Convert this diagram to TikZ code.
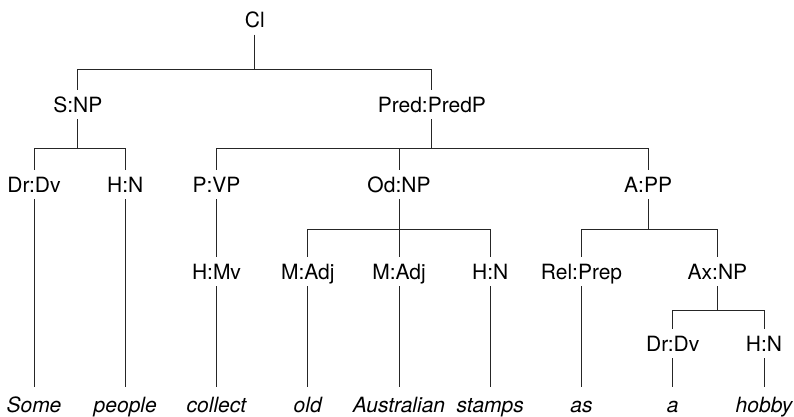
\documentclass[tikz,border=0pt]{standalone}
\usepackage{fontspec}
\setmainfont{TeX Gyre Heros}
\begin{document}
\begin{tikzpicture}[
    every node/.style={font=\fontsize{21}{25}\selectfont},
    lab/.style={
        inner xsep=2pt, inner ysep=7pt,
        text height=15pt, text depth=0pt
    },
    word/.style={
        lab, inner ysep=9.5pt,
        font=\fontsize{21}{25}\selectfont\itshape
    },
    branch/.style={draw=black!85, line width=0.8pt}
]

\def\dx{91.25pt}

\useasboundingbox (-34pt, 0) rectangle (760pt, -416pt);

% Clause and its two functions
\node[lab] (cl)   at (2.42*\dx, -20pt)    {Cl};
\node[lab] (snp)  at (0.48*\dx, -104.5pt) {S:NP};
\node[lab] (pred) at (4.36*\dx, -104.5pt) {Pred:PredP};

% Third row
\node[lab] (drdv) at (0*\dx, -184.5pt)    {Dr:Dv};
\node[lab] (hn)   at (1*\dx, -184.5pt)    {H:N};
\node[lab] (pvp)  at (2*\dx, -184.5pt)    {P:VP};
\node[lab] (odnp) at (4*\dx, -184.5pt)    {Od:NP};
\node[lab] (app)  at (6.73*\dx, -184.5pt) {A:PP};

% Fourth row
\node[lab] (hmv)   at (2*\dx, -271.5pt)    {H:Mv};
\node[lab] (madja) at (3*\dx, -271.5pt)    {M:Adj};
\node[lab] (madjb) at (4*\dx, -271.5pt)    {M:Adj};
\node[lab] (hnb)   at (5*\dx, -271.5pt)    {H:N};
\node[lab] (rel)   at (6*\dx, -271.5pt)    {Rel:Prep};
\node[lab] (axnp)  at (7.49*\dx, -271.5pt) {Ax:NP};

% Fifth row (inside Ax:NP)
\node[lab] (drdvb) at (7*\dx, -343.5pt) {Dr:Dv};
\node[lab] (hnc)   at (8*\dx, -343.5pt) {H:N};

% Words
\node[word] (w0) at (0*\dx, -404.5pt) {Some};
\node[word] (w1) at (1*\dx, -404.5pt) {people};
\node[word] (w2) at (2*\dx, -404.5pt) {collect};
\node[word] (w3) at (3*\dx, -404.5pt) {old};
\node[word] (w4) at (4*\dx, -404.5pt) {Australian};
\node[word] (w5) at (5*\dx, -404.5pt) {stamps};
\node[word] (w6) at (6*\dx, -404.5pt) {as};
\node[word] (w7) at (7*\dx, -404.5pt) {a};
\node[word] (w8) at (8*\dx, -404.5pt) {hobby};

% Branches with a bar under each parent
\draw[branch] (cl) -- ++(0,-49pt) coordinate (jcl);
\draw[branch] (jcl) -| (snp);
\draw[branch] (jcl) -| (pred);

\draw[branch] (snp) -- ++(0,-43.5pt) coordinate (jsnp);
\draw[branch] (jsnp) -| (drdv);
\draw[branch] (jsnp) -| (hn);

\draw[branch] (pred) -- ++(0,-43.5pt) coordinate (jpred);
\draw[branch] (jpred) -| (pvp);
\draw[branch] (jpred) -| (odnp);
\draw[branch] (jpred) -| (app);

\draw[branch] (odnp) -- ++(0,-44.5pt) coordinate (jodnp);
\draw[branch] (jodnp) -| (madja);
\draw[branch] (jodnp) -| (madjb);
\draw[branch] (jodnp) -| (hnb);

\draw[branch] (app) -- ++(0,-44.5pt) coordinate (japp);
\draw[branch] (japp) -| (rel);
\draw[branch] (japp) -| (axnp);

\draw[branch] (axnp) -- ++(0,-38.5pt) coordinate (jaxnp);
\draw[branch] (jaxnp) -| (drdvb);
\draw[branch] (jaxnp) -| (hnc);

\draw[branch] (pvp) -- (hmv);

% Down to the words
\draw[branch] (drdv)  -- (w0);
\draw[branch] (hn)    -- (w1);
\draw[branch] (hmv)   -- (w2);
\draw[branch] (madja) -- (w3);
\draw[branch] (madjb) -- (w4);
\draw[branch] (hnb)   -- (w5);
\draw[branch] (rel)   -- (w6);
\draw[branch] (drdvb) -- (w7);
\draw[branch] (hnc)   -- (w8);

\end{tikzpicture}
\end{document}
